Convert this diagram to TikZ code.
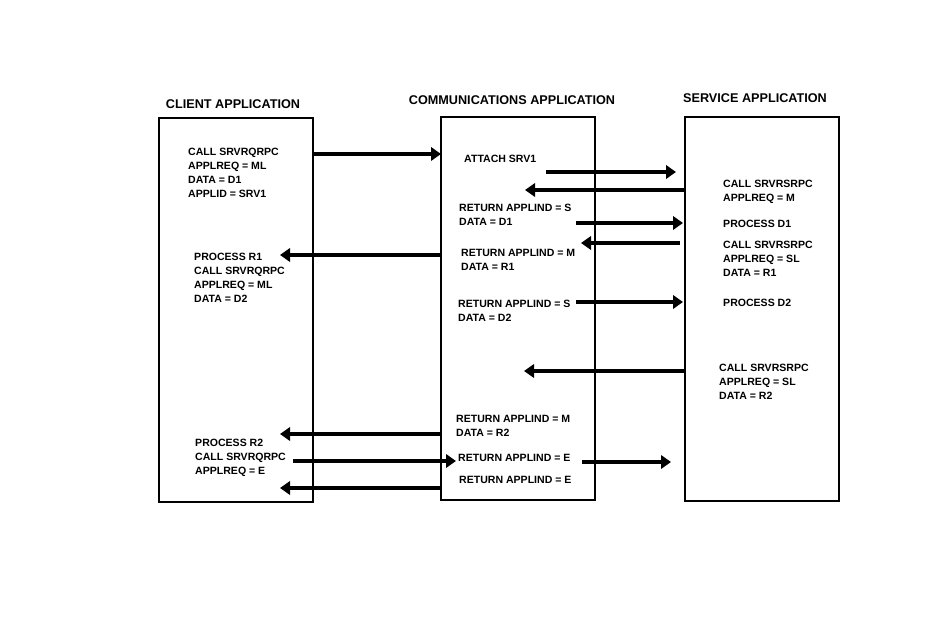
\documentclass[tikz,border=0pt]{standalone}
\usepackage{fontspec}
\setmainfont{Liberation Sans}
\usetikzlibrary{arrows.meta,positioning}

\tikzset{
  appbox/.style={draw, line width=1.8pt, minimum width=4.62cm, inner sep=0pt, outer sep=0pt, anchor=north west},
  apptitle/.style={font=\fontsize{10.8}{13}\selectfont\bfseries},
  msg/.style={anchor=west, align=left, inner sep=0pt, font=\fontsize{9}{11.9}\selectfont\bfseries},
  flow/.style={line width=2.9pt, -{Triangle[length=0.3cm, width=0.4cm]}}
}

\begin{document}
\begin{tikzpicture}[x=0.03cm, y=-0.03cm]
    \useasboundingbox (0,0) rectangle (931,625);

    % the three applications
    \node[appbox, minimum height=11.52cm] (client) at (159,118) {};
    \node[appbox, minimum height=11.49cm] (comm) at (441,117) {};
    \node[appbox, minimum height=11.52cm] (serv) at (685,117) {};

    \node[apptitle] (tclient) at (233,104) {CLIENT APPLICATION};
    \node[apptitle] (tcomm) at (512,100) {COMMUNICATIONS APPLICATION};
    \node[apptitle] (tserv) at (755,98) {SERVICE APPLICATION};

    % client side
    \node[msg] (c1) at (188,173) {CALL SRVRQRPC\\APPLREQ = ML\\DATA = D1\\APPLID = SRV1};
    \node[msg] (c2) at (194,278) {PROCESS R1\\CALL SRVRQRPC\\APPLREQ = ML\\DATA = D2};
    \node[msg] (c3) at (195,458) {PROCESS R2\\CALL SRVRQRPC\\APPLREQ = E};

    % communications side
    \node[msg] (m1) at (464,159) {ATTACH SRV1};
    \node[msg] (m2) at (459,215) {RETURN APPLIND = S\\DATA = D1};
    \node[msg] (m3) at (461,260) {RETURN APPLIND = M\\DATA = R1};
    \node[msg] (m4) at (458,311) {RETURN APPLIND = S\\DATA = D2};
    \node[msg] (m5) at (456,426) {RETURN APPLIND = M\\DATA = R2};
    \node[msg] (m6) at (458,458) {RETURN APPLIND = E};
    \node[msg] (m7) at (459,480) {RETURN APPLIND = E};

    % service side
    \node[msg] (s1) at (723,192) {CALL SRVRSRPC\\APPLREQ = M};
    \node[msg] (s2) at (723,224) {PROCESS D1};
    \node[msg] (s3) at (723,259) {CALL SRVRSRPC\\APPLREQ = SL\\DATA = R1};
    \node[msg] (s4) at (723,303) {PROCESS D2};
    \node[msg] (s5) at (719,382) {CALL SRVRSRPC\\APPLREQ = SL\\DATA = R2};

    % free ends of the flows
    \coordinate (f2a) at (546,172);   \coordinate (f2b) at (676,172);
    \coordinate (f3b) at (525,190);
    \coordinate (f4a) at (576,223);   \coordinate (f4b) at (683,223);
    \coordinate (f5a) at (680,243);   \coordinate (f5b) at (581,243);
    \coordinate (f6b) at (280,255);
    \coordinate (f7a) at (576,302);   \coordinate (f7b) at (683,302);
    \coordinate (f8b) at (524,371);
    \coordinate (f9b) at (280,434);
    \coordinate (f10a) at (293,461); \coordinate (f10b) at (456,461);
    \coordinate (f11a) at (582,462); \coordinate (f11b) at (671,462);
    \coordinate (f12b) at (280,488);

    % flows
    \draw[flow] (client.east |- 0,154) -- (comm.west |- 0,154);
    \draw[flow] (f2a) -- (f2b);
    \draw[flow] (serv.west |- f3b) -- (f3b);
    \draw[flow] (f4a) -- (f4b);
    \draw[flow] (f5a) -- (f5b);
    \draw[flow] (comm.west |- f6b) -- (f6b);
    \draw[flow] (f7a) -- (f7b);
    \draw[flow] (serv.west |- f8b) -- (f8b);
    \draw[flow] (comm.west |- f9b) -- (f9b);
    \draw[flow] (f10a) -- (f10b);
    \draw[flow] (f11a) -- (f11b);
    \draw[flow] (comm.west |- f12b) -- (f12b);
\end{tikzpicture}
\end{document}
